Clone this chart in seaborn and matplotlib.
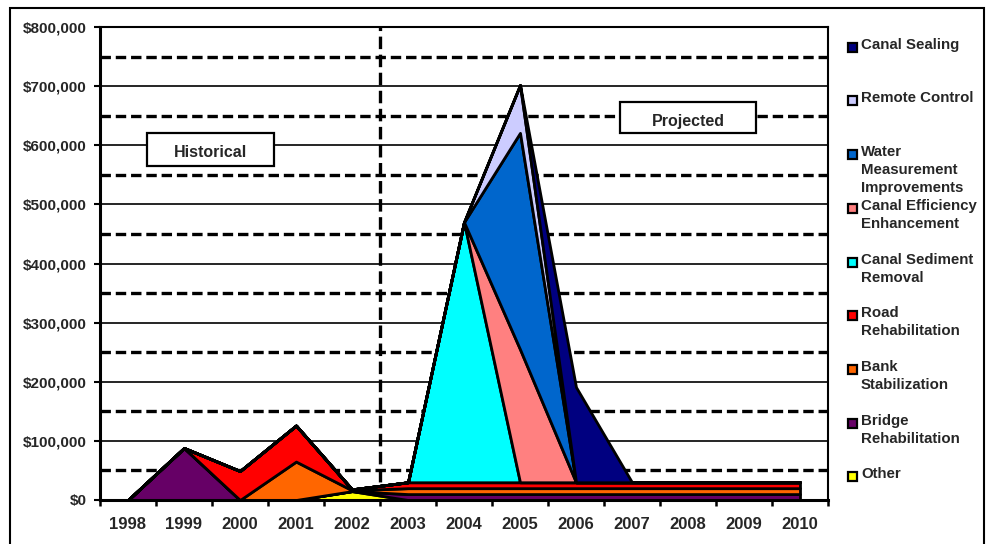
import matplotlib
matplotlib.use("Agg")
import matplotlib.pyplot as plt
from matplotlib.patches import Rectangle
from matplotlib.ticker import FuncFormatter, MultipleLocator
import seaborn as sns
import numpy as np

# Data (stack order bottom -> top)
years = [1998, 1999, 2000, 2001, 2002, 2003, 2004, 2005, 2006, 2007, 2008, 2009, 2010]
other = [0, 0, 0, 0, 15000, 0, 0, 0, 0, 0, 0, 0, 0]
bridge = [0, 88000, 0, 0, 0, 10000, 10000, 10000, 10000, 10000, 10000, 10000, 10000]
bank = [0, 0, 0, 65000, 1500, 10000, 10000, 10000, 10000, 10000, 10000, 10000, 10000]
road = [0, 0, 49000, 61000, 1500, 10000, 10000, 10000, 10000, 10000, 10000, 10000, 10000]
sediment = [0, 0, 0, 0, 0, 0, 440000, 0, 0, 0, 0, 0, 0]
efficiency = [0, 0, 0, 0, 0, 0, 0, 225000, 0, 0, 0, 0, 0]
water = [0, 0, 0, 0, 0, 0, 0, 366000, 0, 0, 0, 0, 0]
remote = [0, 0, 0, 0, 0, 0, 0, 81000, 0, 0, 0, 0, 0]
sealing = [0, 0, 0, 0, 0, 0, 0, 0, 161000, 0, 0, 0, 0]

series = [other, bridge, bank, road, sediment, efficiency, water, remote, sealing]
names = ["Other", "Bridge\nRehabilitation", "Bank\nStabilization", "Road\nRehabilitation",
         "Canal Sediment\nRemoval", "Canal Efficiency\nEnhancement",
         "Water\nMeasurement\nImprovements", "Remote Control", "Canal Sealing"]
colors = ["#FFFF00", "#660066", "#FF6600", "#FF0000", "#00FFFF", "#FF8080",
          "#0066CC", "#CCCCFF", "#000080"]

sns.set_theme(style="white")
plt.rcParams['font.family'] = ['Liberation Sans', 'DejaVu Sans']
plt.rcParams['font.weight'] = 'bold'
plt.rcParams['lines.scale_dashes'] = False

W, H = 987, 544
fig = plt.figure(figsize=(W / 100, H / 100), dpi=100)
ax = fig.add_axes([100 / W, 44 / H, 728 / W, 473 / H])

x = np.arange(len(years))

# grid: solid every 100k, thick dashed at the half steps
for v in range(100000, 800000, 100000):
    ax.axhline(v, color="black", lw=1.2, zorder=1)
for v in range(50000, 800000, 100000):
    ax.axhline(v, color="black", lw=2.4, dashes=(7.5, 3.5), zorder=1)
ax.axvline(4.5, color="black", lw=2.4, dashes=(9, 4), zorder=1)

ax.stackplot(x, *series, colors=colors, edgecolor="black", linewidth=2, zorder=2)

ax.set_xlim(-0.5, len(years) - 0.5)
ax.set_ylim(0, 800000)
ax.set_xticks(x)
ax.set_xticklabels([str(y) for y in years], fontsize=12, fontweight="bold")
ax.xaxis.set_minor_locator(MultipleLocator(1, offset=0.5))
ax.tick_params(axis="x", which="major", length=0, pad=12.5)
ax.tick_params(axis="x", which="minor", length=4.5, width=1.8, direction="out",
               color="black", bottom=True)
ax.yaxis.set_major_locator(MultipleLocator(100000))
ax.yaxis.set_major_formatter(FuncFormatter(lambda v, p: "${:,.0f}".format(v)))
ax.tick_params(axis="y", length=4.5, width=1.5, direction="out", color="black",
               left=True, pad=5, labelsize=11)
for lab in ax.get_yticklabels():
    lab.set_fontweight("bold")

for side in ["left", "bottom"]:
    ax.spines[side].set_linewidth(2.2)
    ax.spines[side].set_color("black")
for side in ["right", "top"]:
    ax.spines[side].set_linewidth(1.5)
    ax.spines[side].set_color("black")
ax.set_zorder(1)

# text boxes
for cx, cy, bw, bh, txt in [(1.48, 593000, 2.27, 56000, "Historical"),
                            (10.0, 647000, 2.43, 52000, "Projected")]:
    ax.add_patch(Rectangle((cx - bw / 2, cy - bh / 2), bw, bh, facecolor="white",
                           edgecolor="black", lw=1.6, zorder=5))
    ax.text(cx, cy - 6000, txt, ha="center", va="center", fontsize=11.5,
            fontweight="bold", zorder=6)

# legend (top entry is the last series)
leg_y = [46, 99, 153, 207, 261, 314, 368, 422, 475]
for i, k in enumerate(range(len(series) - 1, -1, -1)):
    yc = leg_y[i]
    fig.add_artist(Rectangle(((848) / W, 1 - (yc + 6) / H), 9 / W, 9 / H,
                             transform=fig.transFigure, facecolor=colors[k],
                             edgecolor="black", lw=1.6))
    fig.text(861 / W, 1 - (yc - 8) / H, names[k], ha="left", va="top",
             fontsize=10.8, fontweight="bold", linespacing=1.38)

# outer border
fig.add_artist(Rectangle((10 / W, -0.05), 974 / W, 1 - 8 / H + 0.05,
                         transform=fig.transFigure, fill=False,
                         edgecolor="black", lw=1.5))

fig.savefig("out.png", dpi=100)
